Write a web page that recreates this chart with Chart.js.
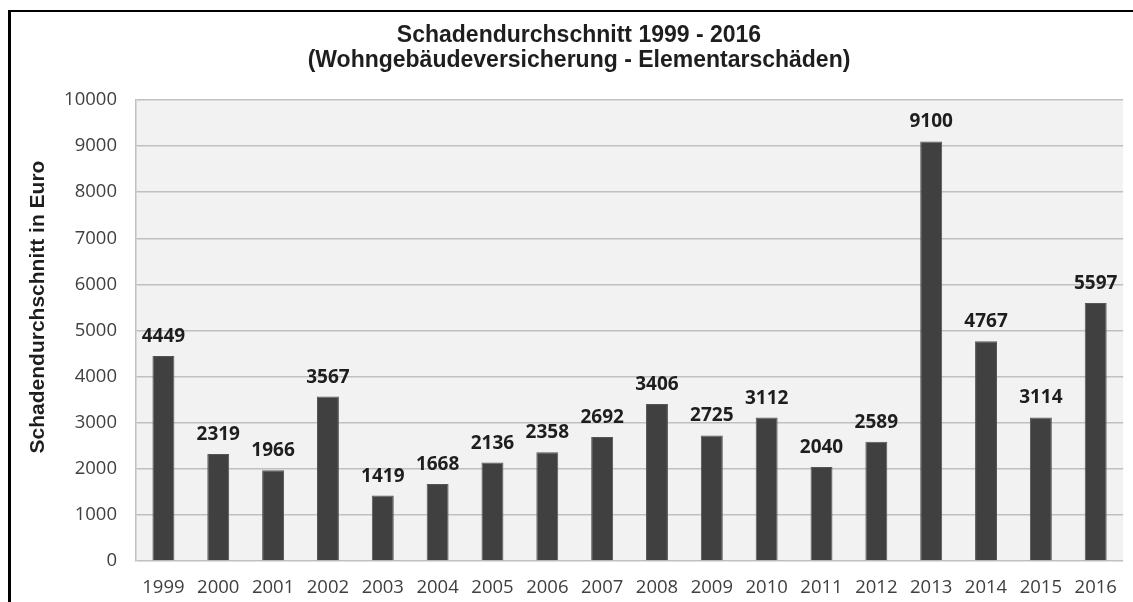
<!DOCTYPE html>
<html>
<head>
<meta charset="utf-8">
<script src="https://cdn.jsdelivr.net/npm/chart.js@4/dist/chart.umd.min.js"></script>
<style>
  html, body { margin: 0; padding: 0; background: #fff; overflow: hidden; }
  #wrap { position: relative; width: 1133px; height: 602px; overflow: hidden; }
  #frame { position: absolute; left: 8px; top: 10px; width: 1125px; height: 592px;
           border-left: 3px solid #000; border-top: 2px solid #000; box-sizing: border-box; }
  canvas { position: absolute; left: 0; top: 0; }
</style>
</head>
<body>
<div id="wrap">
  <div id="frame"></div>
  <canvas id="myChart" width="1133" height="602"></canvas>
</div>
<script>
// data
var years = ["1999","2000","2001","2002","2003","2004","2005","2006","2007","2008",
             "2009","2010","2011","2012","2013","2014","2015","2016"];
var schaden = [4449, 2319, 1966, 3567, 1419, 1668, 2136, 2358, 2692, 3406,
               2725, 3112, 2040, 2589, 9100, 4767, 3114, 5597];
var titleLines = ["Schadendurchschnitt 1999 - 2016", "(Wohngebäudeversicherung - Elementarschäden)"];
var yTitle = "Schadendurchschnitt in Euro";

// grey plot background
var plotBg = {
  id: "plotBg",
  beforeDraw: function(chart) {
    var a = chart.chartArea, ctx = chart.ctx;
    ctx.save();
    ctx.fillStyle = "#f2f2f2";
    ctx.fillRect(a.left, a.top, a.right - a.left, a.bottom - a.top);
    ctx.restore();
  }
};

// value labels above bars + rotated y axis title
var labelsPlugin = {
  id: "labelsPlugin",
  afterDatasetsDraw: function(chart) {
    var ctx = chart.ctx;
    var meta = chart.getDatasetMeta(0);
    ctx.save();
    ctx.font = "bold 19px 'Open Sans'";
    ctx.fillStyle = "#1e1e1e";
    ctx.textAlign = "center";
    ctx.textBaseline = "alphabetic";
    meta.data.forEach(function(bar, i) {
      ctx.fillText(schaden[i], bar.x, bar.y - 14);
    });
    ctx.restore();

    ctx.save();
    ctx.translate(38, 307);
    ctx.rotate(-Math.PI / 2);
    ctx.font = "bold 21px 'Liberation Sans'";
    ctx.fillStyle = "#1e1e1e";
    ctx.textAlign = "center";
    ctx.textBaseline = "middle";
    ctx.fillText(yTitle, 0, 0);
    ctx.restore();
  }
};

var ctx = document.getElementById("myChart").getContext("2d");
var chart = new Chart(ctx, {
  type: "bar",
  data: {
    labels: years,
    datasets: [{
      data: schaden,
      backgroundColor: "#404040",
      borderColor: "#555555",
      borderWidth: 1,
      barPercentage: 0.4,
      categoryPercentage: 1.0
    }]
  },
  options: {
    responsive: false,
    animation: false,
    layout: { padding: { left: 30, right: 5, top: 23, bottom: 0 } },
    plugins: {
      legend: { display: false },
      tooltip: { enabled: false },
      title: {
        display: true,
        text: titleLines,
        color: "#1e1e1e",
        font: { family: "'Liberation Sans'", size: 23, weight: "bold", lineHeight: 1.087 },
        padding: { top: 0, bottom: 27 }
      }
    },
    scales: {
      x: {
        grid: { display: false, drawTicks: false },
        border: { display: false },
        ticks: { color: "#404040", font: { family: "'Open Sans'", size: 18.5 }, padding: 16, maxRotation: 0 },
        afterFit: function(s) { s.height = 41; }
      },
      y: {
        min: 0,
        max: 10000,
        ticks: {
          stepSize: 1000, color: "#404040", font: { family: "'Open Sans'", size: 18.5 }, padding: 19,
          callback: function(v) { return String(v); }
        },
        grid: { color: "#c0c0c0", lineWidth: 1.5, drawTicks: false },
        border: { display: true, color: "#c0c0c0", width: 1.5 },
        afterFit: function(s) { s.width = 106; }
      }
    }
  },
  plugins: [plotBg, labelsPlugin]
});
</script>
</body>
</html>
